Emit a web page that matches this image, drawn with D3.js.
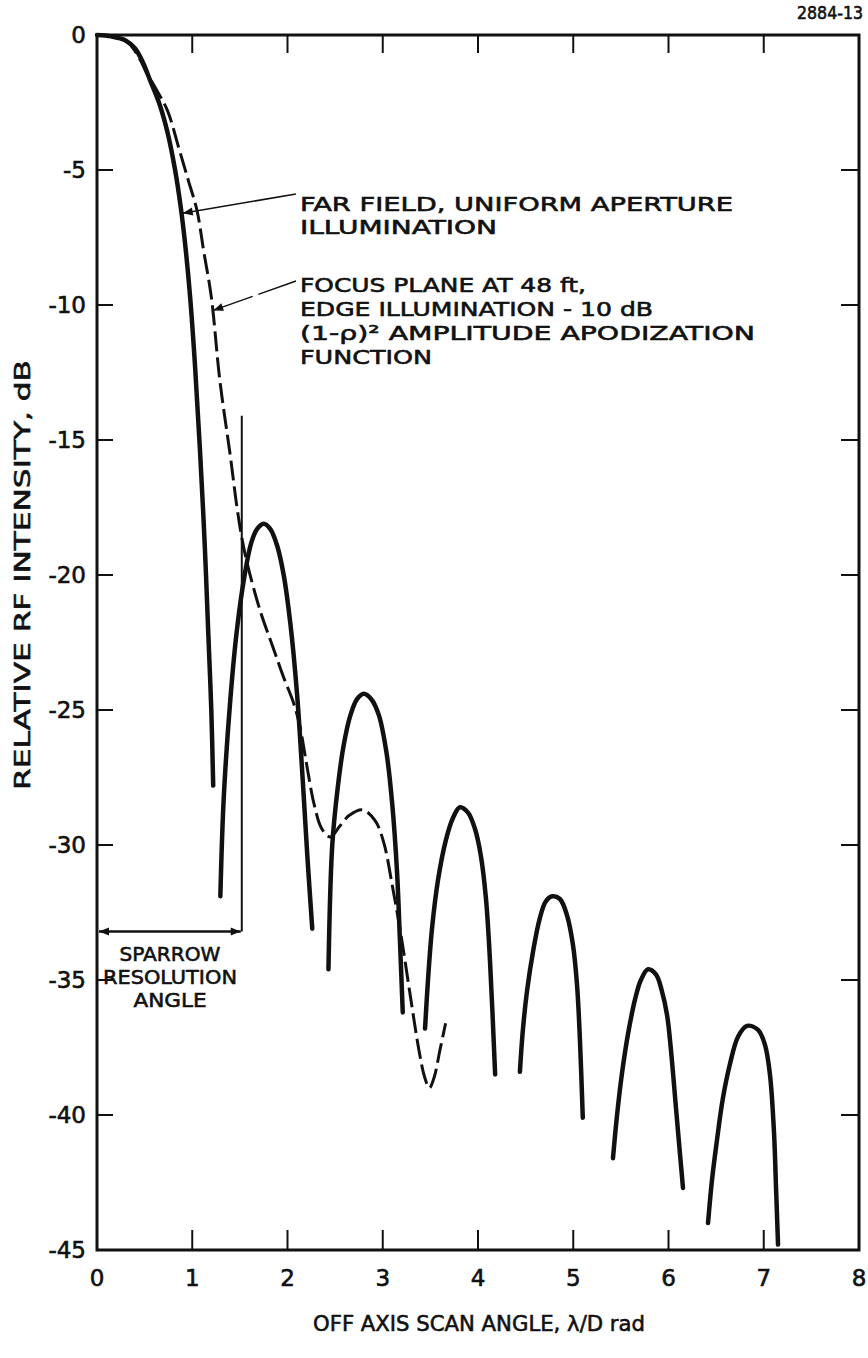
<!DOCTYPE html>
<html>
<head>
<meta charset="utf-8">
<script src="https://cdn.jsdelivr.net/npm/d3@7"></script>
<style>
  body { margin: 0; background: #fff; }
  text { font-family: "DejaVu Sans", sans-serif; fill: #111; stroke: #111; stroke-width: 0.6px; }
</style>
</head>
<body>
<svg id="chart" width="868" height="1358"></svg>
<script>
'use strict'

// ticks
var xTicks = [0, 1, 2, 3, 4, 5, 6, 7, 8];
var yTicks = [0, -5, -10, -15, -20, -25, -30, -35, -40, -45];

// far field, uniform aperture illumination (solid) - [angle, dB]
var mainLobe = [[0, 0], [0.15, -0.05], [0.3, -0.2], [0.4, -0.5], [0.48, -1.0], [0.56, -1.7], [0.66, -2.6],
    [0.74, -3.6], [0.82, -5.0], [0.88, -6.4], [0.93, -7.9], [0.98, -9.8], [1.03, -12.3], [1.08, -15.3],
    [1.13, -18.8], [1.17, -22.3], [1.2, -25.0], [1.22, -27.8]];
var sideLobe1 = [[1.295, -31.9], [1.33, -28.3], [1.40, -24.6], [1.47, -22.0], [1.55, -20.0], [1.62, -18.8],
    [1.68, -18.3], [1.75, -18.1], [1.82, -18.3], [1.89, -18.9], [1.96, -20.0], [2.03, -21.8], [2.1, -24.4],
    [2.16, -27.6], [2.21, -30.5], [2.26, -33.1]];
var sideLobe2 = [[2.43, -34.6], [2.47, -30.0], [2.53, -27.8], [2.59, -26.3], [2.66, -25.2], [2.73, -24.6],
    [2.8, -24.4], [2.88, -24.6], [2.96, -25.2], [3.04, -26.6], [3.1, -28.5], [3.15, -31.0], [3.18, -33.5],
    [3.21, -36.2]];
var sideLobe3 = [[3.444, -36.8], [3.475, -35.0], [3.517, -33.1], [3.58, -31.3], [3.664, -29.8], [3.737, -29.0],
    [3.81, -28.6], [3.895, -28.8], [3.968, -29.4], [4.03, -30.4], [4.084, -32.0], [4.126, -34.3], [4.18, -38.5]];
var sideLobe4 = [[4.44, -38.4], [4.47, -36.9], [4.515, -35.4], [4.58, -33.9], [4.65, -32.7], [4.71, -32.1],
    [4.777, -31.9], [4.86, -32.0], [4.934, -32.6], [4.997, -33.7], [5.04, -35.2], [5.07, -37.2], [5.1, -40.1]];
var sideLobe5 = [[5.417, -41.6], [5.46, -40.0], [5.51, -38.5], [5.575, -37.0], [5.65, -35.7], [5.71, -35.0],
    [5.785, -34.6], [5.87, -34.8], [5.93, -35.4], [5.985, -36.3], [6.026, -37.6], [6.08, -39.8], [6.152, -42.7]];
var sideLobe6 = [[6.415, -44.0], [6.457, -42.4], [6.51, -40.9], [6.57, -39.4], [6.646, -38.1], [6.73, -37.1],
    [6.824, -36.7], [6.94, -36.85], [7.013, -37.4], [7.065, -38.5], [7.107, -40.6], [7.13, -42.8], [7.15, -44.8]];

// focus plane at 48 ft, apodized (dashed)
var apodized = [[0, 0], [0.3, -0.2], [0.45, -0.9], [0.52, -1.4], [0.62, -2.0], [0.74, -2.8], [0.86, -4.2],
    [0.96, -5.4], [1.05, -6.5], [1.12, -8.0], [1.2, -9.7], [1.29, -12.8], [1.40, -15.6], [1.47, -17.5],
    [1.53, -18.8], [1.6, -19.9], [1.72, -21.4], [1.85, -22.7], [1.96, -23.8], [2.06, -24.7], [2.13, -25.6],
    [2.2, -27.0], [2.28, -28.5], [2.36, -29.4], [2.45, -29.7], [2.55, -29.3], [2.65, -28.9], [2.79, -28.7],
    [2.92, -29.1], [3.01, -29.9], [3.1, -31.5], [3.19, -33.3], [3.29, -35.6], [3.38, -37.6], [3.44, -38.6],
    [3.49, -39.0], [3.54, -38.6], [3.6, -37.6], [3.66, -36.6]];

var sparrowAngle = 1.52;
var sparrowTop = -14.1;
var sparrowLevel = -33.2;

var svg = d3.select("#chart");

var x = d3.scaleLinear().domain([0, 8]).range([97, 859]);
var y = d3.scaleLinear().domain([-45, 0]).range([1250, 35]);

var line = d3.line()
    .x(function (d) { return x(d[0]); })
    .y(function (d) { return y(d[1]); })
    .curve(d3.curveCatmullRom.alpha(0.5));

svg.append("defs").append("marker")
    .attr("id", "arrow")
    .attr("viewBox", "0 0 10 10")
    .attr("refX", 10).attr("refY", 5)
    .attr("markerWidth", 14).attr("markerHeight", 10)
    .attr("markerUnits", "userSpaceOnUse")
    .attr("orient", "auto-start-reverse")
    .append("path")
    .attr("d", "M0,1 L10,5 L0,9 Z")
    .attr("fill", "#111");

// frame
svg.append("rect")
    .attr("x", x(0)).attr("y", y(0))
    .attr("width", x(8) - x(0)).attr("height", y(-45) - y(0))
    .attr("fill", "none").attr("stroke", "#111").attr("stroke-width", 3);

// inward ticks on all four sides
var inner = xTicks.slice(1, -1);
svg.append("g").selectAll("line.bt").data(inner).enter().append("line")
    .attr("x1", d => x(d)).attr("x2", d => x(d))
    .attr("y1", y(-45)).attr("y2", y(-45) - 20)
    .attr("stroke", "#111").attr("stroke-width", 2);
svg.append("g").selectAll("line.tt").data(inner).enter().append("line")
    .attr("x1", d => x(d)).attr("x2", d => x(d))
    .attr("y1", y(0)).attr("y2", y(0) + 18)
    .attr("stroke", "#111").attr("stroke-width", 2);
var innerY = yTicks.slice(1, -1);
svg.append("g").selectAll("line.lt").data(innerY).enter().append("line")
    .attr("x1", x(0)).attr("x2", x(0) + 16)
    .attr("y1", d => y(d)).attr("y2", d => y(d))
    .attr("stroke", "#111").attr("stroke-width", 2);
svg.append("g").selectAll("line.rt").data(innerY).enter().append("line")
    .attr("x1", x(8)).attr("x2", x(8) - 18)
    .attr("y1", d => y(d)).attr("y2", d => y(d))
    .attr("stroke", "#111").attr("stroke-width", 2);

// tick labels
svg.append("g").selectAll("text").data(yTicks).enter().append("text")
    .attr("x", 86).attr("y", d => y(d))
    .attr("dy", "0.36em")
    .attr("text-anchor", "end")
    .attr("font-size", 23)
    .text(d => d === 0 ? "0" : "-" + Math.abs(d));
svg.append("g").selectAll("text").data(xTicks).enter().append("text")
    .attr("x", d => x(d)).attr("y", 1286)
    .attr("text-anchor", "middle")
    .attr("font-size", 23)
    .text(d => d);

// axis titles
svg.append("text")
    .attr("x", 479).attr("y", 1331)
    .attr("text-anchor", "middle")
    .attr("font-size", 22)
    .attr("textLength", 332).attr("lengthAdjust", "spacingAndGlyphs")
    .text("OFF AXIS SCAN ANGLE, \u03bb/D rad");
svg.append("text")
    .attr("transform", "translate(30,575) rotate(-90)")
    .attr("text-anchor", "middle")
    .attr("font-size", 22)
    .attr("textLength", 430).attr("lengthAdjust", "spacingAndGlyphs")
    .text("RELATIVE RF INTENSITY, dB");

svg.append("text")
    .attr("x", 863).attr("y", 19)
    .attr("text-anchor", "end")
    .attr("font-size", 17)
    .attr("textLength", 66).attr("lengthAdjust", "spacingAndGlyphs")
    .text("2884-13");

// curves
var solids = [mainLobe, sideLobe1, sideLobe2, sideLobe3, sideLobe4, sideLobe5, sideLobe6];
svg.append("g").selectAll("path").data(solids).enter().append("path")
    .attr("d", line)
    .attr("fill", "none").attr("stroke", "#111")
    .attr("stroke-width", 4.5).attr("stroke-linecap", "round");

svg.append("path")
    .datum(apodized)
    .attr("d", line)
    .attr("fill", "none").attr("stroke", "#111")
    .attr("stroke-width", 3)
    .attr("stroke-dasharray", "20,6");

// sparrow resolution angle
svg.append("line")
    .attr("x1", x(sparrowAngle)).attr("x2", x(sparrowAngle))
    .attr("y1", y(sparrowTop)).attr("y2", y(sparrowLevel))
    .attr("stroke", "#111").attr("stroke-width", 2);
svg.append("line")
    .attr("x1", x(0) + 2).attr("x2", x(sparrowAngle) - 1)
    .attr("y1", y(sparrowLevel)).attr("y2", y(sparrowLevel))
    .attr("stroke", "#111").attr("stroke-width", 2.5)
    .attr("marker-start", "url(#arrow)").attr("marker-end", "url(#arrow)");
var sparrowText = ["SPARROW", "RESOLUTION", "ANGLE"];
var sparrowWidth = [101, 134, 73];
svg.append("g").selectAll("text").data(sparrowText).enter().append("text")
    .attr("x", 170).attr("y", (d, i) => 961 + i * 23)
    .attr("text-anchor", "middle")
    .attr("font-size", 20)
    .attr("textLength", (d, i) => sparrowWidth[i]).attr("lengthAdjust", "spacingAndGlyphs")
    .text(d => d);

// annotations
var farText = ["FAR FIELD, UNIFORM APERTURE", "ILLUMINATION"];
var farWidth = [433, 197];
svg.append("g").selectAll("text").data(farText).enter().append("text")
    .attr("x", 300).attr("y", (d, i) => 211 + i * 23)
    .attr("font-size", 20)
    .attr("textLength", (d, i) => farWidth[i]).attr("lengthAdjust", "spacingAndGlyphs")
    .text(d => d);
svg.append("line")
    .attr("x1", 296).attr("y1", 194)
    .attr("x2", x(0.9)).attr("y2", y(-6.6))
    .attr("stroke", "#111").attr("stroke-width", 1.5)
    .attr("marker-end", "url(#arrow)");

var focusText = ["FOCUS PLANE AT 48 ft,", "EDGE ILLUMINATION - 10 dB", "(1-\u03c1)\u00b2 AMPLITUDE APODIZATION", "FUNCTION"];
var focusWidth = [286, 353, 455, 132];
svg.append("g").selectAll("text").data(focusText).enter().append("text")
    .attr("x", 300).attr("y", (d, i) => 292 + i * 24)
    .attr("font-size", 20)
    .attr("textLength", (d, i) => focusWidth[i]).attr("lengthAdjust", "spacingAndGlyphs")
    .text(d => d);
svg.append("line")
    .attr("x1", 296).attr("y1", 281)
    .attr("x2", x(1.22)).attr("y2", y(-10.2))
    .attr("stroke", "#111").attr("stroke-width", 1.5)
    .attr("stroke-dasharray", "40,6,60")
    .attr("marker-end", "url(#arrow)");
</script>
</body>
</html>
